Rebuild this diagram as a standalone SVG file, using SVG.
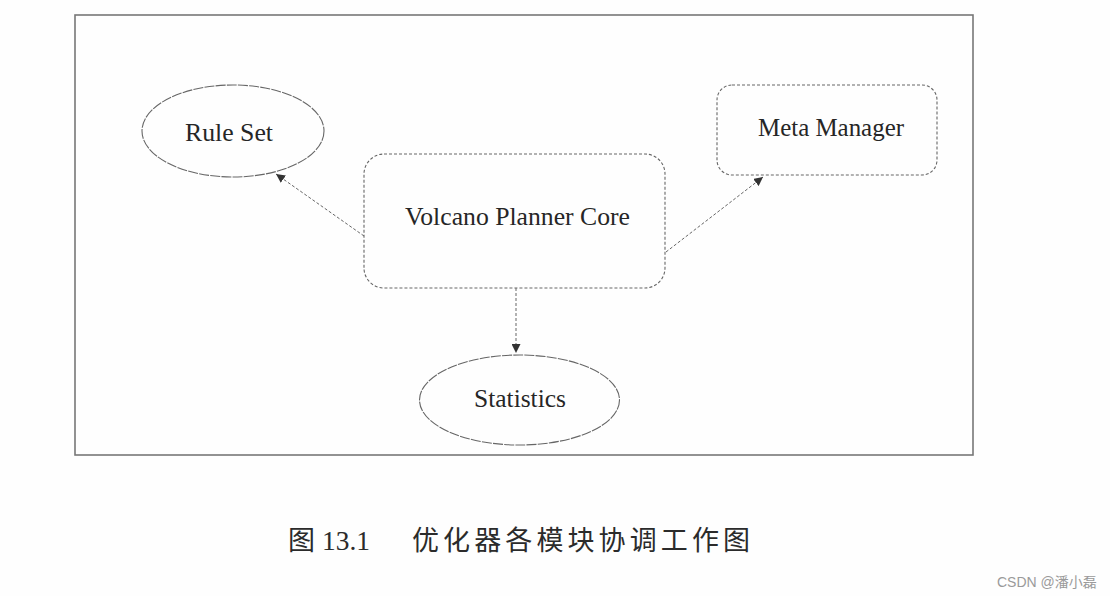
<svg xmlns="http://www.w3.org/2000/svg" width="1110" height="596" viewBox="0 0 1110 596">
<style>
.frame{fill:none;stroke:#777;stroke-width:1.6}
.ell{fill:none;stroke:#666;stroke-width:1.1;stroke-dasharray:10 1.2}
.box{fill:none;stroke:#666;stroke-width:1.1;stroke-dasharray:3 2}
.conn{fill:none;stroke:#666;stroke-width:1;stroke-dasharray:3 2}
.lbl{font-family:"Liberation Serif","Times New Roman",serif;fill:#262626;font-size:25px}
.cap{font-family:"Liberation Serif","Noto Sans CJK SC",serif;fill:#2b2b2b;font-size:27px}
.wm{font-family:"Liberation Sans","Noto Sans CJK SC",sans-serif;fill:#9a9a9a;font-size:14px}
</style>
<defs>
<marker id="ah" viewBox="0 0 10 10" refX="10" refY="5" markerWidth="9" markerHeight="9" markerUnits="userSpaceOnUse" orient="auto">
<path d="M0,0 L10,5 L0,10 Z" fill="#333"/>
</marker>
</defs>
<rect width="1110" height="596" fill="#fefefe"/>
<rect class="frame" x="75" y="15" width="898" height="440"/>
<g id="connectors">
<line class="conn" x1="364" y1="236" x2="276" y2="174" marker-end="url(#ah)"/>
<line class="conn" x1="666" y1="252" x2="763" y2="177" marker-end="url(#ah)"/>
<line class="conn" x1="516" y1="288" x2="516" y2="353" marker-end="url(#ah)"/>
</g>
<g id="rule-set">
<ellipse class="ell" cx="233" cy="131" rx="91" ry="46"/>
<text class="lbl" x="229" y="141" text-anchor="middle" textLength="88" lengthAdjust="spacingAndGlyphs">Rule Set</text>
</g>
<g id="volcano-planner-core">
<rect class="box" x="364" y="154" width="301" height="134" rx="20"/>
<text class="lbl" x="405" y="225" textLength="225" lengthAdjust="spacingAndGlyphs">Volcano Planner Core</text>
</g>
<g id="meta-manager">
<rect class="box" x="717" y="85" width="220" height="90" rx="15"/>
<text class="lbl" x="758" y="136" textLength="146" lengthAdjust="spacingAndGlyphs">Meta Manager</text>
</g>
<g id="statistics">
<ellipse class="ell" cx="519.5" cy="400" rx="100" ry="45"/>
<text class="lbl" x="474" y="407" textLength="92" lengthAdjust="spacingAndGlyphs">Statistics</text>
</g>
<g id="caption">
<text class="cap" x="288" y="550">图</text>
<text class="cap" x="322" y="550" textLength="48" lengthAdjust="spacingAndGlyphs">13.1</text>
<text class="cap" x="412" y="550" textLength="338" lengthAdjust="spacing">优化器各模块协调工作图</text>
</g>
<text class="wm" x="997" y="587">CSDN @潘小磊</text>
</svg>
